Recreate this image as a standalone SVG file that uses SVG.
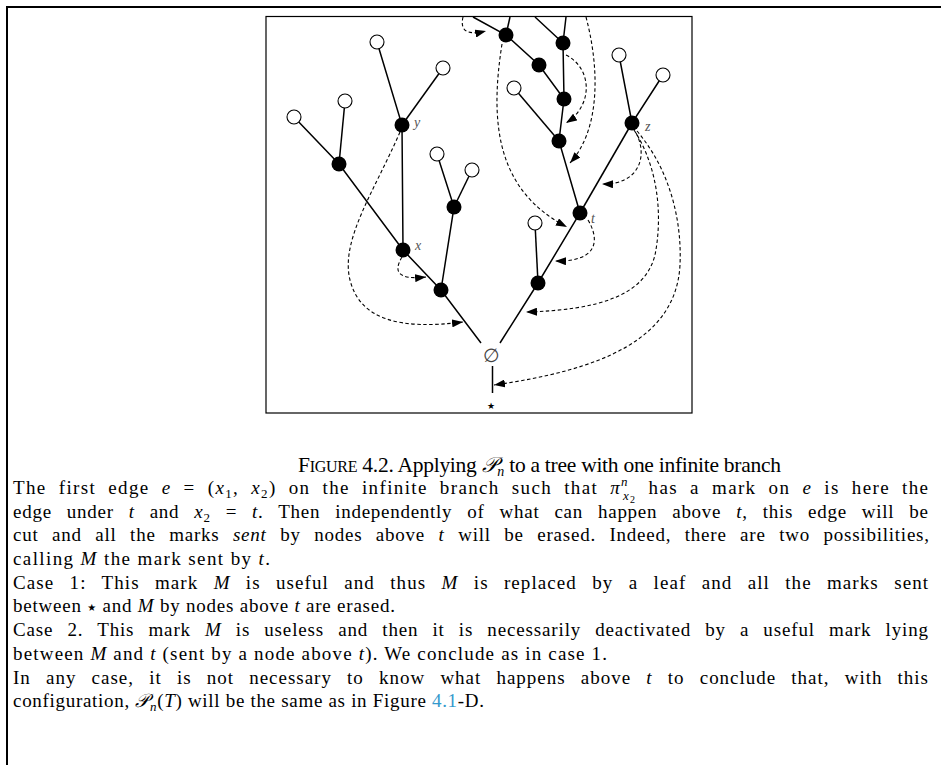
<svg xmlns="http://www.w3.org/2000/svg" width="941" height="765" viewBox="0 0 941 765">
<defs>
<style>
.e{stroke:#000;stroke-width:1.5;fill:none}
.d{stroke:#000;stroke-width:1.1;fill:none;stroke-dasharray:3.5,2.5;marker-end:url(#ah)}
.b{fill:#000}
.o{fill:#fff;stroke:#000;stroke-width:1.1}
.lb{font-family:"Liberation Serif",serif;font-style:italic;font-size:14px;fill:#555}
.t{font-family:"Liberation Serif",serif;font-size:19px;fill:#000}
.i{font-style:italic}
.cap{font-family:"Liberation Serif",serif;font-size:21.5px;fill:#000}
</style>
<marker id="ah" viewBox="0 0 11 8" refX="11" refY="4" markerWidth="11" markerHeight="8" markerUnits="userSpaceOnUse" orient="auto">
<path d="M0,0 L11,4 L0,8 z" fill="#000"/>
</marker>
</defs>
<rect width="941" height="765" fill="#fff"/>
<path d="M7,765 V7 H941" stroke="#000" stroke-width="2" fill="none"/>
<rect x="266" y="16.5" width="426" height="396.5" fill="none" stroke="#000" stroke-width="1.2"/>

<g id="edges">
<path class="e" d="M473,17 L506,35 L539,65 L564,99"/>
<path class="e" d="M506,35 L510,17"/>
<path class="e" d="M535,17 L563,43 L566,17"/>
<path class="e" d="M563,43 L564,99 L559,141 L580,213 L538,283 L500,343"/>
<path class="e" d="M514,88 L559,141"/>
<path class="e" d="M632,123 L580,213"/>
<path class="e" d="M619,55 L632,123 L663,75"/>
<path class="e" d="M535,223 L538,283"/>
<path class="e" d="M481,343 L441,290 L403,250 L339,164 L294,117"/>
<path class="e" d="M339,164 L345,101"/>
<path class="e" d="M403,250 L402,125 L377,42"/>
<path class="e" d="M402,125 L443,68"/>
<path class="e" d="M441,290 L454,207 L437,154"/>
<path class="e" d="M454,207 L472,170"/>
<path class="e" d="M492.5,366 V393"/>
</g>

<g id="connectors">
<path class="d" d="M463,17 C460,30 466,36 486,31"/>
<path class="d" d="M502,44 C490,120 495,190 567,227"/>
<path class="d" d="M566,55 C592,68 594,105 566,123"/>
<path class="d" d="M586,17 C600,70 600,130 570,163"/>
<path class="d" d="M636,133 C648,155 640,185 602,184"/>
<path class="d" d="M634,130 C660,170 662,220 655,255 C645,295 600,310 526,312"/>
<path class="d" d="M637,131 C670,170 682,220 680,265 C676,340 600,370 494,385"/>
<path class="d" d="M400,132 C375,190 340,240 350,280 C360,320 400,330 463,322"/>
<path class="d" d="M402,257 C393,272 398,280 426,277"/>
<path class="d" d="M588,220 C600,240 598,262 555,261"/>
</g>

<g id="n-A"><circle class="o" cx="377" cy="42" r="7"/></g>
<g id="n-B"><circle class="o" cx="443" cy="68" r="7"/></g>
<g id="n-C"><circle class="o" cx="345" cy="101" r="7"/></g>
<g id="n-D"><circle class="o" cx="294" cy="117" r="7"/></g>
<g id="n-F"><circle class="o" cx="437" cy="154" r="7"/></g>
<g id="n-G"><circle class="o" cx="472" cy="170" r="7"/></g>
<g id="n-P"><circle class="o" cx="514" cy="88" r="7"/></g>
<g id="n-R"><circle class="o" cx="619" cy="55" r="7"/></g>
<g id="n-S"><circle class="o" cx="663" cy="75" r="7"/></g>
<g id="n-J"><circle class="o" cx="535" cy="223" r="7"/></g>
<g id="n-E"><circle class="b" cx="339" cy="164" r="7.5"/></g>
<g id="n-y"><circle class="b" cx="402" cy="125" r="7.5"/><text class="lb" x="414" y="127">y</text></g>
<g id="n-H"><circle class="b" cx="454" cy="207" r="7.5"/></g>
<g id="n-x"><circle class="b" cx="403" cy="250" r="7.5"/><text class="lb" x="415" y="250">x</text></g>
<g id="n-I"><circle class="b" cx="441" cy="290" r="7.5"/></g>
<g id="n-L"><circle class="b" cx="506" cy="35" r="7.5"/></g>
<g id="n-M"><circle class="b" cx="563" cy="43" r="7.5"/></g>
<g id="n-N"><circle class="b" cx="539" cy="65" r="7.5"/></g>
<g id="n-O"><circle class="b" cx="564" cy="99" r="7.5"/></g>
<g id="n-Q"><circle class="b" cx="559" cy="141" r="7.5"/></g>
<g id="n-z"><circle class="b" cx="632" cy="123" r="7.5"/><text class="lb" x="645" y="131">z</text></g>
<g id="n-t"><circle class="b" cx="580" cy="213" r="7.5"/><text class="lb" x="591" y="223">t</text></g>
<g id="n-K"><circle class="b" cx="538" cy="283" r="7.5"/></g>
<g id="n-root"><text x="491" y="362" text-anchor="middle" font-family="DejaVu Serif,serif" font-size="19" fill="#444">∅</text></g>
<g id="n-star"><text x="491" y="409" text-anchor="middle" font-family="DejaVu Sans,sans-serif" font-size="9" fill="#000">★</text></g>

<g id="caption">
<text class="cap" x="298" y="472" textLength="483" lengthAdjust="spacing">F<tspan font-size="16">IGURE</tspan> 4.2.  Applying <tspan font-family="DejaVu Sans,sans-serif" font-style="italic">𝒫</tspan><tspan font-size="14" dy="4" class="i">n</tspan><tspan dy="-4"> to a tree with one infinite branch</tspan></text>
</g>
<g id="body">
<text class="t" x="13" y="494" word-spacing="6" textLength="915" lengthAdjust="spacing">The first edge <tspan class="i">e</tspan> = (<tspan class="i">x</tspan><tspan font-size="13" dy="4">1</tspan><tspan dy="-4">, </tspan><tspan class="i">x</tspan><tspan font-size="13" dy="4">2</tspan><tspan dy="-4">) on the infinite branch such that </tspan><tspan class="i">π</tspan><tspan class="i" font-size="13" dy="-8">n</tspan><tspan class="i" font-size="13" dx="-6" dy="14">x</tspan><tspan font-size="10" dy="3">2</tspan><tspan dy="-9"> has a mark on </tspan><tspan class="i">e</tspan> is here the</text>
<text class="t" x="13" y="518" word-spacing="9.5" textLength="915" lengthAdjust="spacing">edge under <tspan class="i">t</tspan> and <tspan class="i">x</tspan><tspan font-size="13" dy="4">2</tspan><tspan dy="-4"> = </tspan><tspan class="i">t</tspan>. Then independently of what can happen above <tspan class="i">t</tspan>, this edge will be</text>
<text class="t" x="13" y="541" word-spacing="8" textLength="916" lengthAdjust="spacing">cut and all the marks <tspan class="i">sent</tspan> by nodes above <tspan class="i">t</tspan> will be erased. Indeed, there are two possibilities,</text>
<text class="t" x="13" y="565" textLength="257" lengthAdjust="spacing">calling <tspan class="i">M</tspan> the mark sent by <tspan class="i">t</tspan>.</text>
<text class="t" x="13" y="589" word-spacing="9.5" textLength="915" lengthAdjust="spacing">Case 1: This mark <tspan class="i">M</tspan> is useful and thus <tspan class="i">M</tspan> is replaced by a leaf and all the marks sent</text>
<text class="t" x="13" y="612" textLength="382" lengthAdjust="spacing">between <tspan font-family="DejaVu Sans,sans-serif" font-size="10" dy="-1">★</tspan><tspan dy="1"> and </tspan><tspan class="i">M</tspan> by nodes above <tspan class="i">t</tspan> are erased.</text>
<text class="t" x="13" y="636" word-spacing="8.5" textLength="915" lengthAdjust="spacing">Case 2. This mark <tspan class="i">M</tspan> is useless and then it is necessarily deactivated by a useful mark lying</text>
<text class="t" x="13" y="660" textLength="594" lengthAdjust="spacing">between <tspan class="i">M</tspan> and <tspan class="i">t</tspan> (sent by a node above <tspan class="i">t</tspan>). We conclude as in case 1.</text>
<text class="t" x="13" y="684" word-spacing="9.5" textLength="915" lengthAdjust="spacing">In any case, it is not necessary to know what happens above <tspan class="i">t</tspan> to conclude that, with this</text>
<text class="t" x="13" y="707" textLength="471" lengthAdjust="spacing">configuration, <tspan font-family="DejaVu Sans,sans-serif" font-style="italic">𝒫</tspan><tspan class="i" font-size="13" dy="4">n</tspan><tspan dy="-4">(</tspan><tspan class="i">T</tspan>) will be the same as in Figure <tspan fill="#3399cc">4.1</tspan>-D.</text>
</g>
</svg>
